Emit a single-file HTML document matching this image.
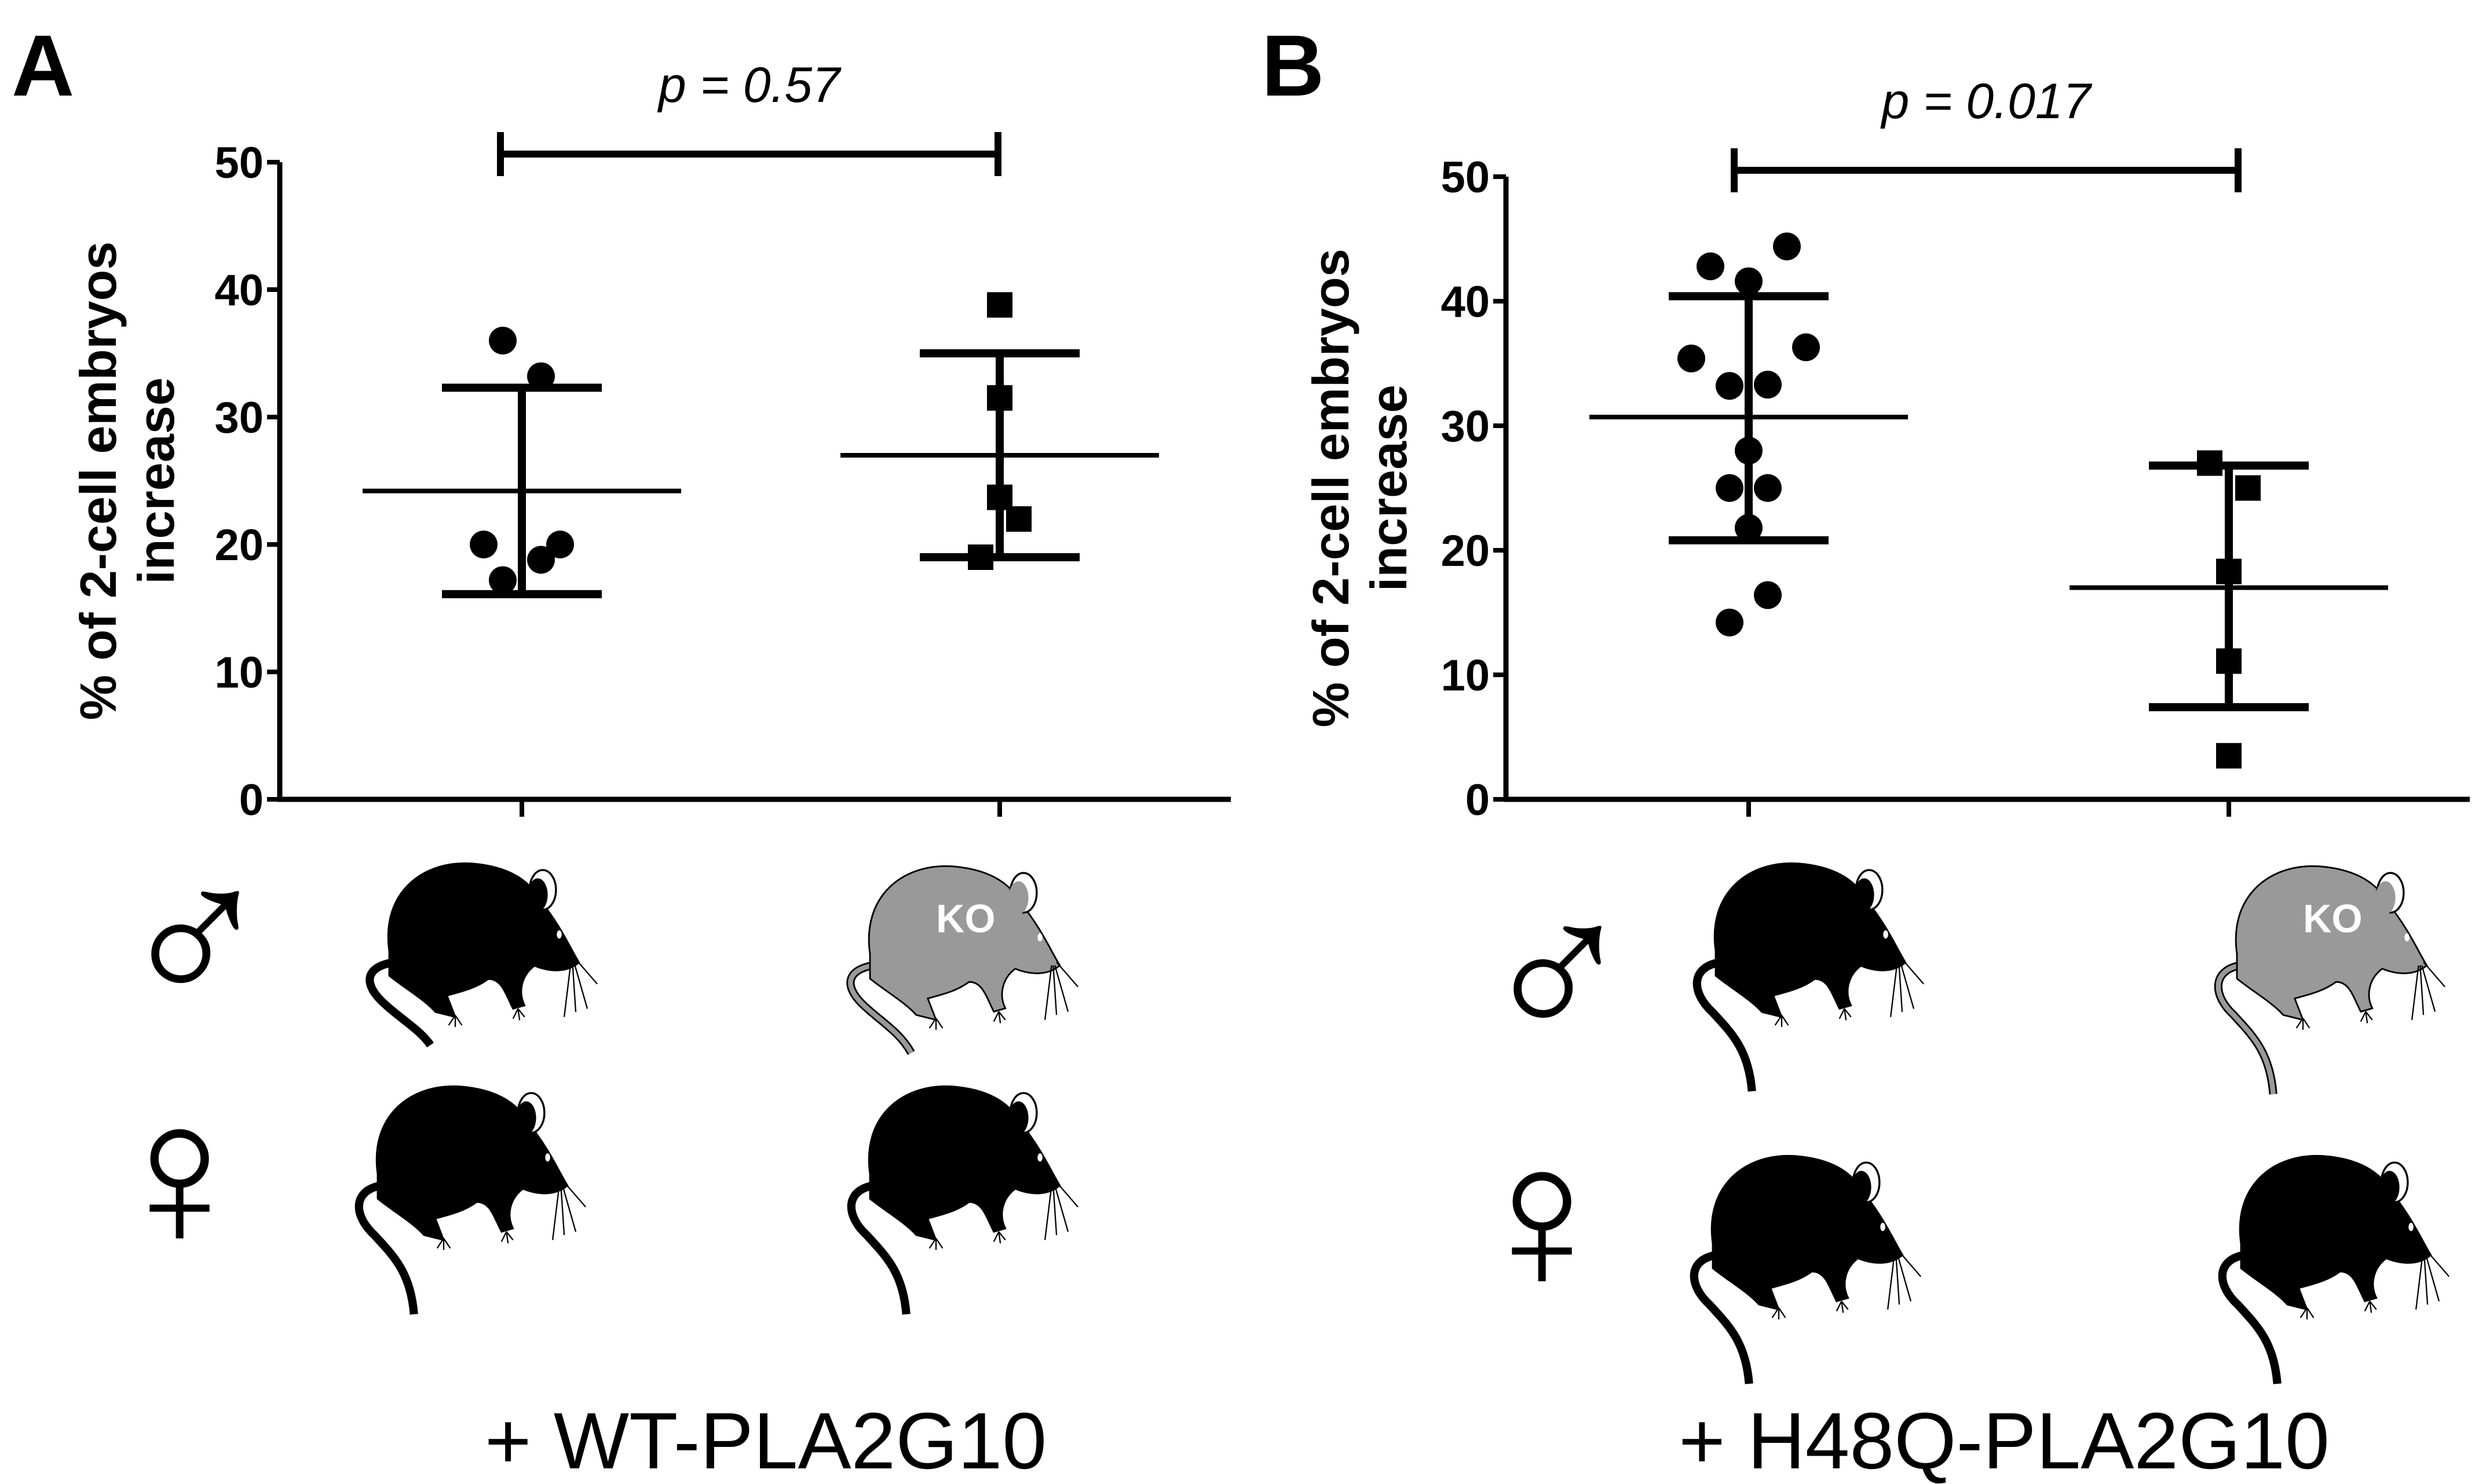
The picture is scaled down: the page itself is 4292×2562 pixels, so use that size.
<!DOCTYPE html>
<html><head><meta charset="utf-8">
<style>
html,body{margin:0;padding:0;background:#fff;}
svg{display:block;font-family:"Liberation Sans",sans-serif;}
</style></head>
<body>
<svg id="fig" width="4292" height="2562" viewBox="0 0 4292 2562">
<defs>
<g id="mouse-body">
<path d="M20,55 C15,20 40,0 70,2 C95,4 106,14 112,25 C124,40 130,54 135,62 C128,68 118,68 108,64 C100,70 98,80 102,88 L95,90 C90,80 88,72 80,72 C72,78 62,80 55,82 L60,95 L48,92 C42,85 30,78 20,70 Z" stroke="#000" stroke-width="1"/>
<ellipse cx="113" cy="18" rx="8" ry="12" fill="#fff" stroke="#000" stroke-width="1.2"/>
<ellipse cx="110" cy="21" rx="6" ry="10"/>
<ellipse cx="123" cy="45" rx="1.5" ry="2.5" fill="#fff"/>
<g stroke="#000" stroke-width="0.8" fill="none">
<line x1="131" y1="62" x2="133" y2="92"/><line x1="132" y1="62" x2="140" y2="90"/>
<line x1="130" y1="62" x2="126" y2="95"/><line x1="133" y1="60" x2="146" y2="75"/>
<path d="M60,94 l-4,6 M60,94 l0,7 M60,94 l4,6 M98,90 l-3,6 M98,90 l1,7 M98,90 l4,5"/>
</g>
</g>
</defs>
<text x="20" y="165" font-size="150" font-weight="bold">A</text>
<text x="2178" y="165" font-size="150" font-weight="bold">B</text>
<g id="chartA"></g>
<g id="chartB"></g>

<g>
<g transform="translate(615,1485) scale(2.85)"><path d="M22,62 C5,65 5,75 15,85 C25,95 38,102 45,112" stroke="#000" stroke-width="5" fill="none"/><use href="#mouse-body" fill="#000"/></g>
<g transform="translate(1445,1490) scale(2.85)"><path d="M22,62 C5,65 5,75 15,85 C25,95 38,102 45,115" stroke="#000" stroke-width="5" fill="none"/><path d="M22,62 C5,65 5,75 15,85 C25,95 38,102 45,115" stroke="#999" stroke-width="3" fill="none"/><use href="#mouse-body" fill="#999"/><text x="60" y="42" font-size="24" font-weight="bold" fill="#fff">KO</text></g>
<g transform="translate(595,1870) scale(2.85)"><path d="M22,62 C5,65 5,80 18,92 C30,105 40,115 42,140" stroke="#000" stroke-width="5" fill="none"/><use href="#mouse-body" fill="#000"/></g>
<g transform="translate(1445,1870) scale(2.85)"><path d="M22,62 C5,65 5,80 18,92 C30,105 40,115 42,140" stroke="#000" stroke-width="5" fill="none"/><use href="#mouse-body" fill="#000"/></g>
</g>
<g>
<g transform="translate(2905,1485) scale(2.85)"><path d="M22,62 C5,65 5,80 18,92 C30,105 40,115 42,140" stroke="#000" stroke-width="5" fill="none"/><use href="#mouse-body" fill="#000"/></g>
<g transform="translate(3805,1490) scale(2.85)"><path d="M22,62 C5,65 5,80 18,92 C30,105 40,115 42,140" stroke="#000" stroke-width="5" fill="none"/><path d="M22,62 C5,65 5,80 18,92 C30,105 40,115 42,140" stroke="#999" stroke-width="3" fill="none"/><use href="#mouse-body" fill="#999"/><text x="60" y="42" font-size="24" font-weight="bold" fill="#fff">KO</text></g>
<g transform="translate(2900,1990) scale(2.85)"><path d="M22,62 C5,65 5,80 18,92 C30,105 40,115 42,140" stroke="#000" stroke-width="5" fill="none"/><use href="#mouse-body" fill="#000"/></g>
<g transform="translate(3812,1990) scale(2.85)"><path d="M22,62 C5,65 5,80 18,92 C30,105 40,115 42,140" stroke="#000" stroke-width="5" fill="none"/><use href="#mouse-body" fill="#000"/></g>
</g>
<text x="337" y="1727" font-size="360" font-weight="bold" text-anchor="middle">♂</text>
<text x="310" y="2152" font-size="360" font-weight="bold" text-anchor="middle">♀</text>
<text x="2689" y="1787" font-size="360" font-weight="bold" text-anchor="middle">♂</text>
<text x="2662" y="2226" font-size="360" font-weight="bold" text-anchor="middle">♀</text>
<text x="1322" y="2535" font-size="138" text-anchor="middle">+ WT-PLA2G10</text>
<text x="3460" y="2535" font-size="138" text-anchor="middle">+ H48Q-PLA2G10</text>
</svg>
<script>
const ticks = [0,10,20,30,40,50];
const aWtVals = [36,33.2,20,18.8,17.2,20];
const aWtJitter = [-1,1,-2,1,-1,2];
const aKoVals = [38.8,31.5,23.7,22,19];
const aKoJitter = [0,0,0,1,-1];
const aStats = [[24.2,32.3,16.1],[27,35,19]];
const bWtVals = [44.4,42.8,41.6,36.3,35.4,33.2,33.3,28,25,25,21.8,16.4,14.2];
const bWtJitter = [2,-2,0,3,-3,-1,1,0,-1,1,0,1,-1];
const bKoVals = [27,25,18.3,11.1,3.5];
const bKoJitter = [-1,1,0,0,0];
const bStats = [[30.7,40.4,20.8],[17,26.8,7.4]];
const NS='http://www.w3.org/2000/svg';
function mk(parent,tag,attrs){const e=document.createElementNS(NS,tag);for(const k in attrs)e.setAttribute(k,attrs[k]);parent.appendChild(e);return e;}
function panel(g,cfg){
  const y=v=>cfg.y0-(cfg.y0-cfg.y50)*v/50;
  let e=mk(g,'line',{x1:cfg.ax,y1:y(50),x2:cfg.ax,y2:y(0)+4,stroke:'#000','stroke-width':9});
  
  
  e=mk(g,'line',{x1:cfg.ax-4,y1:y(0),x2:cfg.xEnd,y2:y(0),stroke:'#000','stroke-width':9});
  
  
  ticks.forEach(t=>{
    e=mk(g,'line',{x1:cfg.ax-22,y1:y(t),x2:cfg.ax,y2:y(t),stroke:'#000','stroke-width':8});
    
    
    e=mk(g,'text',{x:cfg.ax-28,y:y(t)+27,'font-size':76,'font-weight':'bold','text-anchor':'end'});
    e.textContent=t;
    
    
  });
  cfg.cats.forEach(c=>{
    e=mk(g,'line',{x1:c,y1:y(0),x2:c,y2:y(0)+30,stroke:'#000','stroke-width':8});
    
    
  });
  const t=mk(g,'text',{transform:`translate(${cfg.titleX},${(y(0)+y(50))/2}) rotate(-90)`,'font-size':88,'font-weight':'bold','text-anchor':'middle'});
  
  
  const t1=mk(t,'tspan',{x:0,y:0});t1.textContent='% of 2-cell embryos';
  const t2=mk(t,'tspan',{x:0,y:100});t2.textContent='increase';
  cfg.groups.forEach((gr,i)=>{
    const cx=cfg.cats[i];const st=gr.stats;
    e=mk(g,'line',{x1:cx,y1:y(st[1]),x2:cx,y2:y(st[2]),stroke:'#000','stroke-width':14});
    
    
    [st[1],st[2]].forEach(v=>{
      e=mk(g,'line',{x1:cx-138,y1:y(v),x2:cx+138,y2:y(v),stroke:'#000','stroke-width':14});
      
      
    });
    e=mk(g,'line',{x1:cx-275,y1:y(st[0]),x2:cx+275,y2:y(st[0]),stroke:'#000','stroke-width':8});
    
    
    gr.vals.forEach((v,j)=>{
      const px=cx+gr.jit[j]*33;
      if(gr.shape==='circle'){
        e=mk(g,'circle',{cx:px,cy:y(v),r:24,fill:'#000'});
        
      } else {
        e=mk(g,'rect',{x:px-22,y:y(v)-22,width:44,height:44,fill:'#000'});
        
      }
      
    });
  });
  const [x1,x2]=cfg.sig;
  e=mk(g,'path',{d:`M${x1},${cfg.sigY-38}V${cfg.sigY+38}M${x1},${cfg.sigY}H${x2}M${x2},${cfg.sigY-38}V${cfg.sigY+38}`,stroke:'#000','stroke-width':12,fill:'none'});
  
  
  e=mk(g,'text',{x:(x1+x2)/2,y:cfg.sigY-90,'font-size':86,'font-style':'italic','text-anchor':'middle'});
  e.textContent=cfg.p;
  
  
}
panel(document.getElementById('chartA'),{ax:483,y0:1380,y50:280,xEnd:2125,cats:[901,1726],titleX:200,
  groups:[{vals:aWtVals,jit:aWtJitter,stats:aStats[0],shape:'circle'},{vals:aKoVals,jit:aKoJitter,stats:aStats[1],shape:'square'}],
  sig:[864,1723],sigY:266,p:'p = 0.57'});
panel(document.getElementById('chartB'),{ax:2600,y0:1380,y50:305,xEnd:4264,cats:[3019,3848],titleX:2328,
  groups:[{vals:bWtVals,jit:bWtJitter,stats:bStats[0],shape:'circle'},{vals:bKoVals,jit:bKoJitter,stats:bStats[1],shape:'square'}],
  sig:[2994,3864],sigY:294,p:'p = 0.017'});
</script>
</body></html>
